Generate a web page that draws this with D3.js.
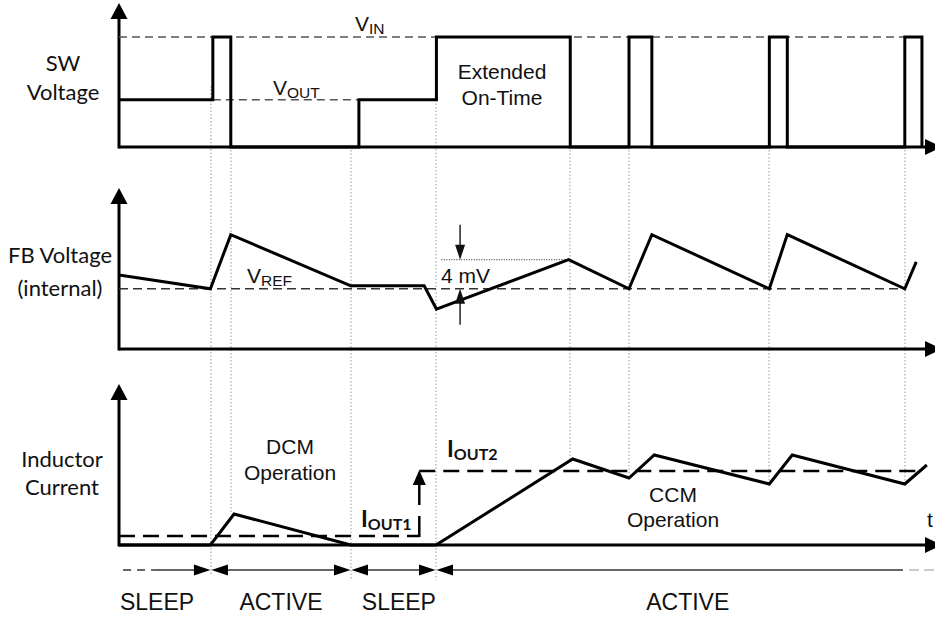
<!DOCTYPE html>
<html><head><meta charset="utf-8">
<script src="https://cdn.jsdelivr.net/npm/d3@7"></script>
<style>html,body{margin:0;padding:0;background:#fff;}svg{display:block;}</style>
</head><body>
<script>
// ---------------- data ----------------
// time axis is normalized 0..100
const swT = [0, 11.5, 13.7, 29.4, 38.9, 55.3, 62.5, 65.3, 79.7, 81.9, 96.3, 98.4];
const swV = [0.43, 1, 0, 0.43, 1, 0, 1, 0, 1, 0, 1, 0];   // fraction of VIN
const VIN = 1, VOUT = 0.43;
const fbT = [0, 11.2, 13.7, 28.4, 37.4, 38.9, 55.1, 62.5, 65.3, 79.7, 81.9, 96.3, 97.7];
const fbV = [1.9, 0, 7.45, 0.4, 0.4, -2.8, 4.0, 0, 7.45, 0, 7.45, 0, 3.7];  // mV above VREF
const VREF = 0, RIPPLE = 4;
const ilT = [0, 11.2, 14.1, 28.4, 38.85, 55.6, 62.5, 65.6, 79.7, 82.5, 96.3, 99.0];
const ilV = [0, 0, 0.31, 0, 0, 0.86, 0.67, 0.90, 0.61, 0.90, 0.61, 0.80];
const IOUT1 = 0.09, IOUT2 = 0.74, stepT = 36.8;
const gridT = [11.27, 13.73, 28.43, 38.85, 55.27, 62.5, 79.66, 96.32];
const phaseLabels = ["SLEEP", "ACTIVE", "SLEEP", "ACTIVE"];
const phaseBounds = [11.27, 28.43, 38.85];
const phaseCenters = [4.66, 19.85, 34.3, 69.7];

// ---------------- layout ----------------
const W = 935, H = 617;
const x = d3.scaleLinear().domain([0, 100]).range([119, 935]);
const ySW = d3.scaleLinear().domain([0, 1]).range([147, 37]);
const yFB = d3.scaleLinear().domain([-8.3, 13.6]).range([349, 190]);
const yIL = d3.scaleLinear().domain([0, 1.6]).range([545, 385]);
const sans = "'Liberation Sans', Arial, sans-serif";
const cal = "Lato, 'Open Sans', sans-serif";

const svg = d3.select("body").append("svg").attr("width", W).attr("height", H);

// grid (dotted verticals)
const gridTop = [86, 150, 150, 100, 150, 150, 150, 150];
const gridBot = [574, yIL(0.31), 580, 580, yIL(0.86), yIL(0.67), yIL(0.61), yIL(0.61)];
svg.append("g").selectAll("line").data(gridT).join("line")
  .attr("x1", d => x(d)).attr("x2", d => x(d))
  .attr("y1", (d, i) => gridTop[i]).attr("y2", (d, i) => gridBot[i])
  .attr("stroke", "#9a9a9a").attr("stroke-width", 1).attr("stroke-dasharray", "1.5,2");

// axes
function axes(yBase, yTop) {
  const g = svg.append("g");
  g.append("line").attr("x1", x(0)).attr("x2", 926).attr("y1", yBase).attr("y2", yBase)
    .attr("stroke", "#000").attr("stroke-width", 3);
  g.append("line").attr("x1", x(0)).attr("x2", x(0)).attr("y1", yBase + 1.5).attr("y2", yTop + 12)
    .attr("stroke", "#000").attr("stroke-width", 3);
  g.append("path").attr("d", `M${x(0)},${yTop} L${x(0) - 8.5},${yTop + 16} L${x(0) + 8.5},${yTop + 16} Z`).attr("fill", "#000");
  g.append("path").attr("d", `M942,${yBase} L925,${yBase - 8} L925,${yBase + 8} Z`).attr("fill", "#000");
}
axes(ySW(0), 3);
axes(yFB.range()[0], 188);
axes(yIL(0), 384);

// reference dashed lines
function hline(t0, t1, y, dash, w, col) {
  svg.append("line").attr("x1", x(t0)).attr("x2", x(t1)).attr("y1", y).attr("y2", y)
    .attr("stroke", col).attr("stroke-width", w).attr("stroke-dasharray", dash);
}
hline(0, 98.4, ySW(VIN), "8,5", 1.5, "#555");
hline(11.5, 29.4, ySW(VOUT), "8,5", 1.5, "#555");
hline(0, 96.3, yFB(VREF), "9,5", 1.5, "#333");
hline(0, stepT, yIL(IOUT1), "16,8", 2.5, "#000");
hline(stepT, 98.4, yIL(IOUT2), "16,8", 2.5, "#000");

// waveforms
const sw = swT.map((t, i) => [t, swV[i]]);
svg.append("path").attr("d", d3.line().x(d => x(d[0])).y(d => ySW(d[1])).curve(d3.curveStepAfter)(sw))
  .attr("fill", "none").attr("stroke", "#000").attr("stroke-width", 3).attr("stroke-linejoin", "miter");
const fb = fbT.map((t, i) => [t, fbV[i]]);
svg.append("path").attr("d", d3.line().x(d => x(d[0])).y(d => yFB(d[1]))(fb))
  .attr("fill", "none").attr("stroke", "#000").attr("stroke-width", 3).attr("stroke-linejoin", "miter");
const il = ilT.map((t, i) => [t, ilV[i]]);
svg.append("path").attr("d", d3.line().x(d => x(d[0])).y(d => yIL(d[1]))(il))
  .attr("fill", "none").attr("stroke", "#000").attr("stroke-width", 3).attr("stroke-linejoin", "miter");

// IOUT step arrow
const sx = x(stepT);
svg.append("line").attr("x1", sx).attr("x2", sx).attr("y1", yIL(IOUT1) + 1).attr("y2", yIL(IOUT1) - 20)
  .attr("stroke", "#000").attr("stroke-width", 2.5);
svg.append("line").attr("x1", sx).attr("x2", sx).attr("y1", yIL(IOUT1) - 31).attr("y2", yIL(IOUT2) + 12)
  .attr("stroke", "#000").attr("stroke-width", 2.5);
svg.append("path").attr("d", `M${sx},${yIL(IOUT2) - 1} L${sx - 6.5},${yIL(IOUT2) + 14} L${sx + 6.5},${yIL(IOUT2) + 14} Z`).attr("fill", "#000");

// 4 mV annotation
const ax = x(41.8);
svg.append("line").attr("x1", x(39.5)).attr("x2", x(55.1)).attr("y1", yFB(RIPPLE)).attr("y2", yFB(RIPPLE))
  .attr("stroke", "#222").attr("stroke-width", 1).attr("stroke-dasharray", "1,1.5");
svg.append("line").attr("x1", ax).attr("x2", ax).attr("y1", yFB(RIPPLE) - 35).attr("y2", yFB(RIPPLE) - 10)
  .attr("stroke", "#222").attr("stroke-width", 1.5);
svg.append("path").attr("d", `M${ax},${yFB(RIPPLE)} L${ax - 5},${yFB(RIPPLE) - 15} L${ax + 5},${yFB(RIPPLE) - 15} Z`).attr("fill", "#111");
svg.append("line").attr("x1", ax).attr("x2", ax).attr("y1", yFB(VREF) + 36).attr("y2", yFB(VREF) + 10)
  .attr("stroke", "#222").attr("stroke-width", 1.5);
svg.append("path").attr("d", `M${ax},${yFB(VREF)} L${ax - 5},${yFB(VREF) + 15} L${ax + 5},${yFB(VREF) + 15} Z`).attr("fill", "#111");

// timeline
const ty = 570;
const tl = svg.append("g").attr("stroke", "#333").attr("stroke-width", 1.5);
tl.append("line").attr("x1", x(0.5)).attr("x2", x(4.2)).attr("y1", ty).attr("y2", ty).attr("stroke-dasharray", "8,6");
const bx = phaseBounds.map(x);
const segs = [[x(4.2), bx[0]], [bx[0], bx[1]], [bx[1], bx[2]], [bx[2], 903]];
segs.forEach((s, i) => {
  tl.append("line").attr("x1", s[0] + (i > 0 ? 12 : 0)).attr("x2", s[1] - (i < 3 ? 12 : 0)).attr("y1", ty).attr("y2", ty);
});
tl.append("line").attr("x1", 909).attr("x2", 935).attr("y1", ty).attr("y2", ty).attr("stroke", "#bbb").attr("stroke-dasharray", "10,5");
bx.forEach(b => {
  svg.append("path").attr("d", `M${b - 0.5},${ty} L${b - 17},${ty - 5.5} L${b - 17},${ty + 5.5} Z`).attr("fill", "#000");
  svg.append("path").attr("d", `M${b + 0.5},${ty} L${b + 17},${ty - 5.5} L${b + 17},${ty + 5.5} Z`).attr("fill", "#000");
});
svg.append("g").selectAll("text").data(phaseLabels).join("text")
  .attr("x", (d, i) => x(phaseCenters[i])).attr("y", 610).attr("text-anchor", "middle")
  .attr("font-family", sans).attr("font-size", 23).attr("fill", "#111").text(d => d);

// text helpers
function txt(xp, yp, s, size, fam, anchor, weight) {
  return svg.append("text").attr("x", xp).attr("y", yp).attr("font-family", fam).attr("font-size", size)
    .attr("text-anchor", anchor || "middle").attr("font-weight", weight || "normal").attr("fill", "#111").text(s);
}
function sub(xp, yp, main, subs, size, subSize, fam, weight) {
  const t = svg.append("text").attr("x", xp).attr("y", yp).attr("font-family", fam)
    .attr("font-weight", weight || "normal").attr("fill", "#111");
  t.append("tspan").attr("font-size", size).text(main);
  t.append("tspan").attr("font-size", subSize).attr("dy", 3).text(subs);
}

// panel labels
txt(63, 71, "SW", 22, cal); txt(63, 100, "Voltage", 22, cal);
txt(60, 263, "FB Voltage", 22, cal); txt(60, 296, "(internal)", 22, cal);
txt(62, 467, "Inductor", 22, cal); txt(62, 495, "Current", 22, cal);

// annotations
sub(355, 31, "V", "IN", 21, 15.5, sans);
sub(273, 95, "V", "OUT", 21, 15.5, sans);
sub(247, 283, "V", "REF", 21, 15.5, sans);
txt(441, 283, "4 mV", 21, sans, "start");
txt(502, 79, "Extended", 21, sans); txt(502, 105, "On-Time", 21, sans);
txt(290, 454, "DCM", 21, sans); txt(290, 480, "Operation", 21, sans);
txt(673, 502, "CCM", 21, sans); txt(673, 527, "Operation", 21, sans);
txt(927, 527, "t", 21, sans, "start");
sub(361, 527, "I", "OUT1", 23, 16, cal, "bold");
sub(447, 457, "I", "OUT2", 23, 16, cal, "bold");
</script>
</body></html>
